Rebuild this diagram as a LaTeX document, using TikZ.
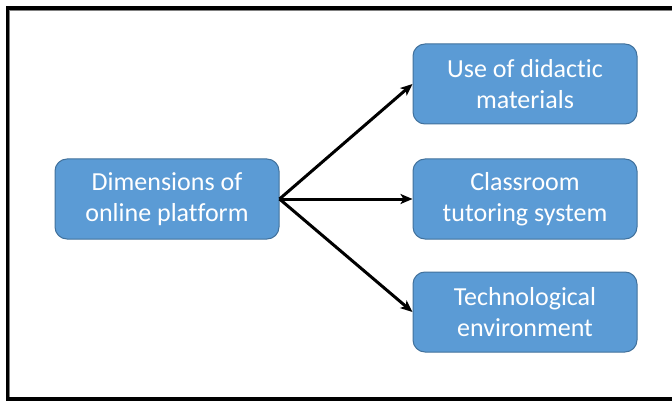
\documentclass[tikz,border=0pt]{standalone}
\usepackage{fontspec}
\setmainfont[Ligatures={NoCommon}]{Carlito}
\usetikzlibrary{arrows.meta}
\definecolor{boxfill}{HTML}{5B9BD5}
\definecolor{boxline}{HTML}{41719C}
\tikzset{
  box/.style={draw=boxline, line width=1pt, fill=boxfill, rounded corners=12pt,
    minimum width=224pt, minimum height=80pt, text=white, align=center,
    font=\fontsize{26}{31}\selectfont, inner sep=0pt},
  conn/.style={line width=3pt, -{Stealth[length=12pt,width=10pt,inset=3pt]}}
}
\begin{document}
\begin{tikzpicture}[x=1pt,y=-1pt]
\useasboundingbox (0,0) rectangle (672,401);
\draw[gray, line width=1pt] (685,10.5) -- (9.5,10.5) -- (9.5,401);
\draw[black, line width=3.2pt] (685,8) -- (7.5,8) -- (7.5,399) -- (685,399);
\node[box] (src) at (167,199) {Dimensions of\\online platform};
\node[box] (a) at (525,84) {Use of didactic\\materials};
\node[box] (b) at (525,199) {Classroom\\tutoring system};
\node[box] (c) at (525,312) {Technological\\environment};
\draw[conn] (src.east) -- (a.west);
\draw[conn] (src.east) -- (b.west);
\draw[conn] (src.east) -- (c.west);
\end{tikzpicture}
\end{document}
